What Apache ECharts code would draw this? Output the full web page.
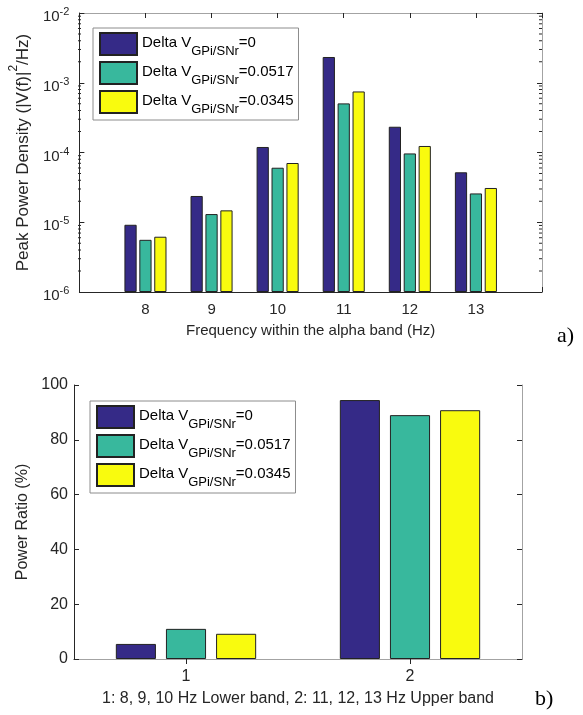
<!DOCTYPE html>
<html><head><meta charset="utf-8">
<script src="https://cdn.jsdelivr.net/npm/echarts@6/dist/echarts.min.js"></script>
<style>html,body{margin:0;padding:0;background:#fff}#c{width:583px;height:715px}</style>
</head><body><div id="c"></div><script>
// ---- data ----
const freqs = ['8', '9', '10', '11', '12', '13'];
const deltaLabels = ['0', '0.0517', '0.0345'];
const psd0 = [9.2e-6, 2.38e-5, 1.2e-4, 2.34e-3, 2.34e-4, 5.2e-5];
const psd1 = [5.6e-6, 1.31e-5, 6.05e-5, 5.06e-4, 9.7e-5, 2.59e-5];
const psd2 = [6.2e-6, 1.48e-5, 7.07e-5, 7.5e-4, 1.24e-4, 3.1e-5];
const bands = ['1', '2'];
const ratio0 = [5.5, 94.5];
const ratio1 = [11.0, 89.0];
const ratio2 = [9.2, 90.8];
const logMin = 1e-6, logMax = 1e-2;

// ---- styles ----
const FONT = 'Liberation Sans, Arial, sans-serif';
const DARK = '#262626';
const LIGHT = '#a3a3a3';
const colors = ['#352a87', '#38b89d', '#f9fb0e'];
const names = deltaLabels.map(d => 'Delta V GPi/SNr=' + d);
const psd = [psd0, psd1, psd2];
const ratio = [ratio0, ratio1, ratio2];

const G1 = {left: 78, top: 13, width: 464, height: 279};
const G2 = {left: 74, top: 385, width: 448, height: 274};

const xTopData = [''].concat(freqs, ['']);

function legendCfg(left, top) {
  return {
    orient: 'vertical', left: left, top: top,
    data: names, icon: 'rect', itemWidth: 37, itemHeight: 22, itemGap: 3,
    padding: [4, 5, 4, 6], backgroundColor: '#fff', borderColor: '#8c8c8c', borderWidth: 1,
    selectedMode: false,
    formatter: n => '{a|Delta V}{s|GPi/SNr}{a|=' + deltaLabels[names.indexOf(n)] + '}',
    textStyle: {
      color: '#000', fontFamily: FONT,
      rich: {
        a: {fontSize: 15, fontFamily: FONT, color: '#000', padding: [0, 0, 3, 0]},
        s: {fontSize: 13, fontFamily: FONT, color: '#000', padding: [15, 0, 0, 0]}
      }
    }
  };
}

const tickStyle = {show: true, inside: true, length: 5, lineStyle: {color: DARK, width: 1}};

const option = {
  animation: false,
  backgroundColor: '#fff',
  textStyle: {fontFamily: FONT},
  grid: [
    Object.assign({containLabel: false}, G1),
    Object.assign({containLabel: false}, G2)
  ],
  legend: [legendCfg(93, 28), legendCfg(90, 401)],
  xAxis: [
    {
      type: 'category', gridIndex: 0, data: xTopData, boundaryGap: false,
      axisLine: {show: true, lineStyle: {color: DARK, width: 1}},
      axisTick: tickStyle,
      axisLabel: {interval: 0, margin: 10, fontSize: 15, color: DARK, fontFamily: FONT},
      splitLine: {show: false},
      name: 'Frequency within the alpha band (Hz)', nameLocation: 'middle', nameGap: 31,
      nameTextStyle: {fontSize: 15, color: DARK, fontFamily: FONT}
    },
    {
      type: 'category', gridIndex: 0, data: xTopData, boundaryGap: false, position: 'top',
      axisLine: {show: true, lineStyle: {color: LIGHT, width: 1}},
      axisTick: tickStyle, axisLabel: {show: false}, splitLine: {show: false}
    },
    {
      type: 'category', gridIndex: 1, data: bands, boundaryGap: true,
      axisLine: {show: true, lineStyle: {color: DARK, width: 1}},
      axisTick: Object.assign({alignWithLabel: true}, tickStyle),
      axisLabel: {interval: 0, margin: 10, fontSize: 16, color: DARK, fontFamily: FONT},
      splitLine: {show: false},
      name: '1: 8, 9, 10 Hz Lower band, 2: 11, 12, 13 Hz Upper band', nameLocation: 'middle', nameGap: 32,
      nameTextStyle: {fontSize: 16, color: DARK, fontFamily: FONT}
    },
    {
      type: 'category', gridIndex: 1, data: bands, boundaryGap: true, position: 'top',
      axisLine: {show: true, lineStyle: {color: LIGHT, width: 1}},
      axisTick: Object.assign({alignWithLabel: true}, tickStyle),
      axisLabel: {show: false}, splitLine: {show: false}
    }
  ],
  yAxis: [
    {
      type: 'log', gridIndex: 0, logBase: 10, min: logMin, max: logMax, startValue: logMin,
      axisLine: {show: true, lineStyle: {color: DARK, width: 1}},
      axisTick: tickStyle, splitLine: {show: false},
      axisLabel: {
        margin: 10, color: DARK, fontFamily: FONT, padding: [5, 0, 0, 0],
        formatter: v => '{b|10}{e|' + Math.round(Math.log10(v)) + '}',
        rich: {
          b: {fontSize: 15, fontFamily: FONT, color: DARK, verticalAlign: 'bottom'},
          e: {fontSize: 11, fontFamily: FONT, color: DARK, verticalAlign: 'top', lineHeight: 18}
        }
      },
      name: '{n|Peak Power Density (|V(f)|}{p|2}{n|/Hz)}', nameLocation: 'middle', nameGap: 32,
      nameTextStyle: {
        color: DARK, fontFamily: FONT,
        rich: {
          n: {fontSize: 17, fontFamily: FONT, color: DARK, verticalAlign: 'bottom'},
          p: {fontSize: 12, fontFamily: FONT, color: DARK, verticalAlign: 'top', lineHeight: 24}
        }
      }
    },
    {
      type: 'log', gridIndex: 0, logBase: 10, min: logMin, max: logMax, position: 'right',
      axisLine: {show: true, lineStyle: {color: LIGHT, width: 1}},
      axisTick: tickStyle, axisLabel: {show: false}, splitLine: {show: false}
    },
    {
      type: 'value', gridIndex: 1, min: 0, max: 100, interval: 20,
      axisLine: {show: true, lineStyle: {color: DARK, width: 1}},
      axisTick: tickStyle, splitLine: {show: false},
      axisLabel: {margin: 6, fontSize: 16, color: DARK, fontFamily: FONT},
      name: 'Power Ratio (%)', nameLocation: 'middle', nameGap: 34,
      nameTextStyle: {fontSize: 16, color: DARK, fontFamily: FONT}
    },
    {
      type: 'value', gridIndex: 1, min: 0, max: 100, interval: 20, position: 'right',
      axisLine: {show: true, lineStyle: {color: LIGHT, width: 1}},
      axisTick: tickStyle, axisLabel: {show: false}, splitLine: {show: false}
    }
  ],
  series: [],
  graphic: []
};

for (let i = 0; i < 3; i++) {
  option.series.push({
    type: 'bar', name: names[i], xAxisIndex: 0, yAxisIndex: 0,
    data: ['-'].concat(psd[i], ['-']),
    barWidth: '18.5%', barGap: '22%',
    itemStyle: {color: colors[i], borderColor: '#222', borderWidth: 1}
  });
}
for (let i = 0; i < 3; i++) {
  option.series.push({
    type: 'bar', name: names[i], xAxisIndex: 2, yAxisIndex: 2,
    data: ratio[i],
    barWidth: '17.9%', barGap: '25%',
    itemStyle: {color: colors[i], borderColor: '#222', borderWidth: 1}
  });
}

const chart = echarts.init(document.getElementById('c'), null, {renderer: 'canvas'});
chart.setOption(option);

// minor log ticks + panel tags
const gfx = [];
const xl = G1.left, xr = G1.left + G1.width;
for (let k = -6; k < -2; k++) {
  for (let m = 2; m <= 9; m++) {
    const py = chart.convertToPixel({yAxisIndex: 0}, m * Math.pow(10, k));
    gfx.push({type: 'line', silent: true, shape: {x1: xl, y1: py, x2: xl + 3, y2: py}, style: {stroke: DARK, lineWidth: 1}});
    gfx.push({type: 'line', silent: true, shape: {x1: xr - 3, y1: py, x2: xr, y2: py}, style: {stroke: DARK, lineWidth: 1}});
  }
}
gfx.push({type: 'text', left: 557, top: 325, style: {text: 'a)', font: '22px "Liberation Serif", "Times New Roman", serif', fill: '#000'}});
gfx.push({type: 'text', left: 535, top: 688, style: {text: 'b)', font: '22px "Liberation Serif", "Times New Roman", serif', fill: '#000'}});
chart.setOption({graphic: gfx});
</script></body></html>
